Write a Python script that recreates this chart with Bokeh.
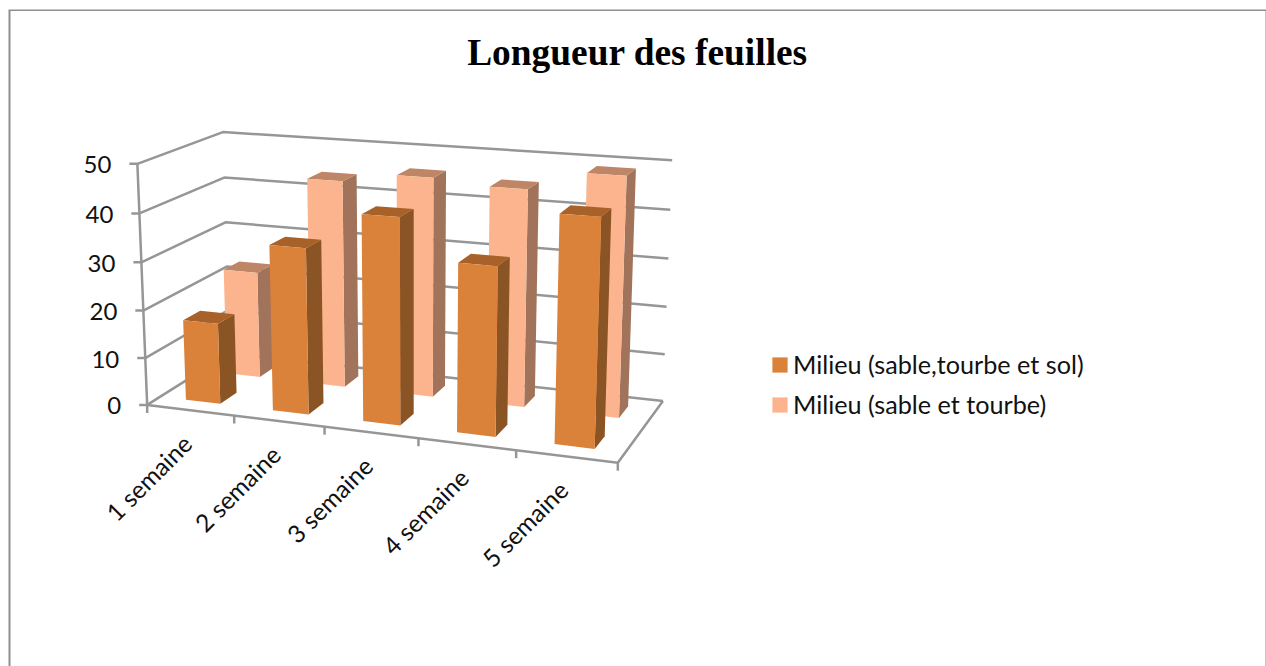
import numpy as np
from bokeh.plotting import figure
from bokeh.models import Legend, LegendItem
from bokeh.core.properties import value
from bokeh.embed import file_html
from bokeh.resources import INLINE

# ---- data ----
weeks = ["1 semaine", "2 semaine", "3 semaine", "4 semaine", "5 semaine"]
sable_tourbe_sol = [17, 34.3, 42, 34, 45]
sable_tourbe = [23, 44, 46, 45, 49]
series_names = ["Milieu (sable,tourbe et sol)", "Milieu (sable et tourbe)"]
y_ticks = [0, 10, 20, 30, 40, 50]

# ---- layout ----
W, H = 1266, 666
GRID = "#969696"
FRONT = ["#DA813A", "#FBB48D"]
SIDE = ["#8B5424", "#A0735A"]
TOP = ["#A86229", "#BE8567"]
DEPTH = [(0.15, 0.35), (0.65, 0.85)]   # gap depth 150 %
GAP = 0.3                              # gap width 150 %

# camera: world (category, depth, value) -> page pixel, by least squares
calib = [
    (0, 0, 50, 136, 163), (0, 0, 40, 139, 213), (0, 0, 30, 141.7, 261.7),
    (0, 0, 20, 143.5, 310), (0, 0, 10, 145, 357), (0, 0, 0, 146.7, 405),
    (0, 1, 50, 222.7, 131.7), (0, 1, 40, 223.3, 177), (0, 1, 30, 225, 222),
    (0, 1, 20, 226, 266), (5, 1, 50, 671.7, 160), (5, 1, 40, 670, 209.3),
    (5, 1, 30, 667.7, 258.3), (5, 1, 20, 666, 306), (5, 1, 10, 664.3, 353.7),
    (5, 1, 0, 662.7, 400), (5, 0, 0, 617.3, 461.7), (1, 0, 0, 233, 415),
    (2, 0, 0, 324, 426.7), (3, 0, 0, 417.7, 438), (4, 0, 0, 515.7, 450),
]
A, b = [], []
for X, Y, Z, px, py in calib:
    A.append([X, Y, Z, 1, 0, 0, 0, 0, -px * X, -px * Y, -px * Z])
    A.append([0, 0, 0, 0, X, Y, Z, 1, -py * X, -py * Y, -py * Z])
    b += [px, py]
cam = np.append(np.linalg.lstsq(np.array(A, float), np.array(b, float), rcond=None)[0], 1).reshape(3, 4)


def pr(u, d, v):
    q = cam @ np.array([u, d, v, 1.0])
    return q[0] / q[2], q[1] / q[2]


def poly(pts):
    c = [pr(*t) for t in pts]
    return [a for a, _ in c], [e for _, e in c]


p = figure(width=W, height=H, x_range=(0, W), y_range=(H, 0),
           toolbar_location=None, output_backend="svg",
           x_axis_location=None, y_axis_location=None, min_border=0,
           outline_line_color=None, background_fill_color="white")
p.grid.visible = False

# chart frame (open at the bottom, as the picture is cropped there)
p.line([9, 9], [10, 674], line_color="#8f8f8f", line_width=2)
p.line([8, 1266], [9.7, 9.7], line_color="#8f8f8f", line_width=1.5)
p.line([1265.5, 1265.5], [9, 674], line_color="#8f8f8f", line_width=1)

n = len(weeks)
LW = 2.5
# walls and floor
for v in y_ticks:
    x, y = poly([(0, 0, v), (0, 1, v), (n, 1, v)])
    p.line(x, y, line_color=GRID, line_width=LW)
    x, y = pr(0, 0, v)
    p.line([x - 8, x], [y, y], line_color=GRID, line_width=LW)
x, y = poly([(0, 0, 50), (0, 0, 0), (n, 0, 0), (n, 1, 0)])
p.line(x, y, line_color=GRID, line_width=LW)
for i in range(n + 1):
    x, y = pr(i, 0, 0)
    p.line([x, x], [y, y + 8], line_color=GRID, line_width=LW)

# bars: back row first, then front row
legend_items = []
for s, vals in reversed(list(enumerate([sable_tourbe_sol, sable_tourbe]))):
    d0, d1 = DEPTH[s]
    fx, fy, sx, sy, tx, ty = [], [], [], [], [], []
    for i, v in enumerate(vals):
        u0, u1 = i + GAP, i + 1 - GAP
        a, e = poly([(u0, d0, 0), (u1, d0, 0), (u1, d0, v), (u0, d0, v)])
        fx.append(a); fy.append(e)
        a, e = poly([(u1, d0, 0), (u1, d1, 0), (u1, d1, v), (u1, d0, v)])
        sx.append(a); sy.append(e)
        a, e = poly([(u0, d0, v), (u1, d0, v), (u1, d1, v), (u0, d1, v)])
        tx.append(a); ty.append(e)
    p.patches(sx, sy, fill_color=SIDE[s], line_color=None)
    p.patches(tx, ty, fill_color=TOP[s], line_color=None)
    r = p.patches(fx, fy, fill_color=FRONT[s], line_color=None)
    legend_items.insert(0, LegendItem(label=series_names[s], renderers=[r]))

# tick labels
for v in y_ticks:
    x, y = pr(0, 0, v)
    p.text([x - 26], [y + 1], text=[str(v)], text_align="right", text_baseline="middle",
           text_font=value("Lato"), text_font_size="24px", text_color="#111111")
for i, w in enumerate(weeks):
    x, y = pr(i + 0.5, 0, 0)
    p.text([x - 3], [y + 29], text=[w], angle=np.pi / 4, text_align="right", text_baseline="middle",
           text_font=value("Lato"), text_font_size="24.5px", text_color="#111111")

# title
p.text([637], [52], text=["Longueur des feuilles"], text_align="center", text_baseline="middle",
       text_font=value("Liberation Serif"), text_font_style="bold",
       text_font_size="37.4px", text_color="black")

# legend
leg = Legend(items=legend_items, location=(770, 247), orientation="vertical",
             background_fill_alpha=0, border_line_color=None, margin=0, padding=0,
             glyph_width=19, glyph_height=19, label_standoff=4, spacing=10,
             label_text_font="Lato", label_text_font_size="25.2px", label_text_color="#111111")
p.add_layout(leg, "center")

open("out.html", "w").write(file_html(p, INLINE))
